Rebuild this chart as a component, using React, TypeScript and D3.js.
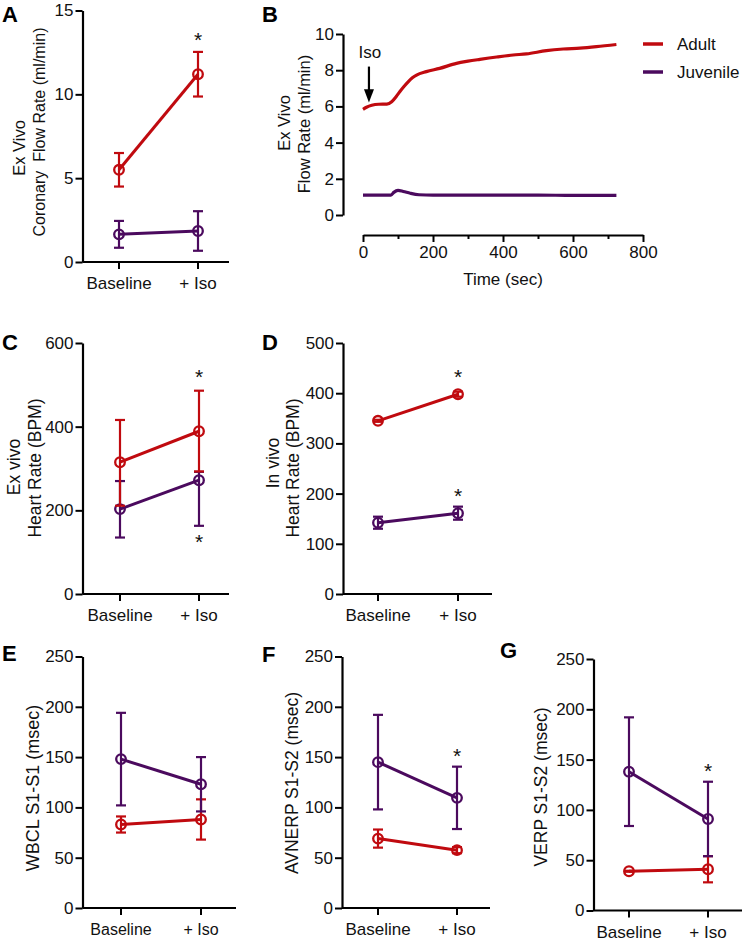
import React, { useRef, useEffect } from "react";
import * as d3 from "d3";

const RED = "#c00a0f";
const PURPLE = "#4b0a5e";
const FONT = "'Liberation Sans', Arial, Helvetica, sans-serif";

const categories = ["Baseline", "+ Iso"];

// A - coronary flow (ml/min), errors as [down, up]
const flowAdult = [5.5, 11.2];
const flowAdultErr = [[1.0, 1.0], [1.33, 1.33]];
const flowJuv = [1.65, 1.85];
const flowJuvErr = [[0.8, 0.8], [1.18, 1.18]];
const flowStars = [{ cat: "+ Iso", value: 13.5 }];

// B - flow over time
const adultTime = [0, 10, 25, 45, 68, 82, 95, 105, 117, 129, 141, 153, 181, 219, 267, 300, 334, 382, 429, 467, 524, 572, 620, 667, 724];
const adultFlow = [5.84, 5.95, 6.06, 6.12, 6.13, 6.26, 6.55, 6.81, 7.1, 7.36, 7.58, 7.73, 7.92, 8.1, 8.38, 8.5, 8.6, 8.73, 8.84, 8.9, 9.08, 9.17, 9.22, 9.3, 9.42];
const juvTime = [0, 40, 80, 88, 100, 115, 135, 160, 200, 300, 400, 500, 600, 700, 724];
const juvFlow = [1.1, 1.1, 1.1, 1.25, 1.36, 1.3, 1.2, 1.12, 1.1, 1.1, 1.1, 1.1, 1.08, 1.08, 1.08];
const isoTime = 17;

// C - ex vivo heart rate
const hrExAdult = [315, 389];
const hrExAdultErr = [[104, 101], [96, 97]];
const hrExJuv = [203, 272];
const hrExJuvErr = [[68, 67], [109, 20]];
const hrExStars = [{ cat: "+ Iso", value: 528 }, { cat: "+ Iso", value: 134 }];

// D - in vivo heart rate
const hrInAdult = [345, 398];
const hrInAdultErr = [[2, 2], [5, 5]];
const hrInJuv = [142, 161];
const hrInJuvErr = [[12, 12], [13, 13]];
const hrInStars = [{ cat: "+ Iso", value: 440 }, { cat: "+ Iso", value: 204 }];

// E - WBCL
const wbclAdult = [83, 88];
const wbclAdultErr = [[8, 8], [20, 20]];
const wbclJuv = [148, 123];
const wbclJuvErr = [[46, 46], [27, 27]];

// F - AVNERP
const avnerpAdult = [69, 57.5];
const avnerpAdultErr = [[9, 9], [3, 3]];
const avnerpJuv = [145, 109.5];
const avnerpJuvErr = [[47, 47], [31, 31]];
const avnerpStars = [{ cat: "+ Iso", value: 155 }];

// G - VERP
const verpAdult = [39, 41];
const verpAdultErr = [[0.5, 0.5], [13, 13]];
const verpJuv = [138, 91];
const verpJuvErr = [[54, 54], [37, 37]];
const verpStars = [{ cat: "+ Iso", value: 143 }];

function YAxis({ scale, x, ticks, fontSize }) {
  const ref = useRef(null);
  useEffect(() => {
    const g = d3.select(ref.current);
    g.call(d3.axisLeft(scale).tickValues(ticks).tickSize(7).tickPadding(2).tickSizeOuter(0));
    g.attr("font-family", FONT).attr("font-size", fontSize);
    g.select(".domain").attr("stroke-width", 2.2);
    g.selectAll(".tick line").attr("stroke-width", 2);
    g.selectAll(".tick text").attr("fill", "#111");
  });
  return <g ref={ref} transform={`translate(${x},0)`} />;
}

function Title({ lines }) {
  return (
    <g>
      {lines.map((l, i) => (
        <text
          key={i}
          transform={`translate(${l.x},${l.y}) rotate(-90)`}
          textAnchor="middle"
          fontSize={l.size}
          fontFamily={FONT}
          fill="#111"
          style={{ whiteSpace: "pre" }}
        >
          {l.text}
        </text>
      ))}
    </g>
  );
}

function Letter({ text, x, y }) {
  return (
    <text x={x} y={y} fontSize={22} fontWeight="bold" fontFamily={FONT} fill="#000">
      {text}
    </text>
  );
}

function Series({ xs, y, values, err, color }) {
  const pts = values.map((v, i) => [xs(categories[i]), y(v)]);
  return (
    <g>
      {values.map((v, i) => {
        const cx = xs(categories[i]);
        const lo = y(v - err[i][0]);
        const hi = y(v + err[i][1]);
        return (
          <g key={i} stroke={color} strokeWidth={2.2}>
            <line x1={cx} x2={cx} y1={lo} y2={hi} />
            <line x1={cx - 5} x2={cx + 5} y1={lo} y2={lo} />
            <line x1={cx - 5} x2={cx + 5} y1={hi} y2={hi} />
          </g>
        );
      })}
      <path d={d3.line()(pts)} stroke={color} strokeWidth={3} fill="none" />
      {pts.map((p, i) => (
        <circle key={i} cx={p[0]} cy={p[1]} r={4.8} fill="none" stroke={color} strokeWidth={2.3} />
      ))}
    </g>
  );
}

function CatPanel({ x0, yTop, yBottom, xEnd, catX, max, ticks, tickFont, catFont, series, stars = [], titles, letter }) {
  const y = d3.scaleLinear().domain([0, max]).range([yBottom, yTop]);
  const xs = d3.scalePoint().domain(categories).range(catX);
  return (
    <g>
      <Letter {...letter} />
      <Title lines={titles} />
      <YAxis scale={y} x={x0} ticks={ticks} fontSize={tickFont} />
      <line x1={x0} x2={xEnd} y1={yBottom} y2={yBottom} stroke="#000" strokeWidth={2.2} />
      {categories.map((c) => (
        <g key={c}>
          <line x1={xs(c)} x2={xs(c)} y1={yBottom} y2={yBottom + 7} stroke="#000" strokeWidth={2} />
          <text x={xs(c)} y={yBottom + 27} textAnchor="middle" fontSize={catFont} fontFamily={FONT} fill="#111" style={{ whiteSpace: "pre" }}>
            {c}
          </text>
        </g>
      ))}
      {series.map((s, i) => (
        <Series key={i} xs={xs} y={y} {...s} />
      ))}
      {stars.map((s, i) => (
        <text key={i} x={xs(s.cat)} y={y(s.value) + 11} textAnchor="middle" fontSize={21} fontFamily={FONT} fill="#111">
          *
        </text>
      ))}
    </g>
  );
}

function TimePanel() {
  const x = d3.scaleLinear().domain([0, 800]).range([363, 643]);
  const y = d3.scaleLinear().domain([0, 10]).range([215, 34]);
  const xRef = useRef(null);
  useEffect(() => {
    const g = d3.select(xRef.current);
    g.call(
      d3.axisBottom(x)
        .tickValues(d3.range(0, 801, 100))
        .tickSize(7)
        .tickPadding(4)
        .tickSizeOuter(0)
        .tickFormat((d) => (d % 200 === 0 ? String(d) : ""))
    );
    g.attr("font-family", FONT).attr("font-size", 17);
    g.select(".domain").attr("stroke-width", 2.2);
    g.selectAll(".tick line").attr("stroke-width", 2).attr("y2", (d) => (d % 200 === 0 ? 7 : 4));
    g.selectAll(".tick text").attr("fill", "#111");
  });
  const line = d3.line().x((d) => x(d[0])).y((d) => y(d[1])).curve(d3.curveMonotoneX);
  const adultPts = adultTime.map((t, i) => [t, adultFlow[i]]);
  const juvPts = juvTime.map((t, i) => [t, juvFlow[i]]);
  const ax = x(isoTime);
  return (
    <g>
      <Letter text="B" x={262} y={22} />
      <Title
        lines={[
          { text: "Ex Vivo", x: 290, y: 123, size: 16.5 },
          { text: "Flow Rate (ml/min)", x: 310, y: 124, size: 16.5 },
        ]}
      />
      <YAxis scale={y} x={343} ticks={[0, 2, 4, 6, 8, 10]} fontSize={17} />
      <g ref={xRef} transform="translate(0,235)" />
      <text x={(363 + 643) / 2} y={285} textAnchor="middle" fontSize={17} fontFamily={FONT} fill="#111">
        Time (sec)
      </text>
      <path d={line(juvPts)} stroke={PURPLE} strokeWidth={3.2} fill="none" />
      <path d={line(adultPts)} stroke={RED} strokeWidth={3.2} fill="none" />
      <text x={ax + 1} y={58} textAnchor="middle" fontSize={17} fontFamily={FONT} fill="#111">
        Iso
      </text>
      <line x1={ax} x2={ax} y1={y(8.2)} y2={y(6.9)} stroke="#000" strokeWidth={2.2} />
      <path d={`M${ax - 5},${y(6.95)} L${ax + 5},${y(6.95)} L${ax},${y(6.22)} Z`} fill="#000" />
      <line x1={643} x2={663} y1={44} y2={44} stroke={RED} strokeWidth={3.5} />
      <text x={677} y={50} fontSize={17} fontFamily={FONT} fill="#111">Adult</text>
      <line x1={643} x2={663} y1={72} y2={72} stroke={PURPLE} strokeWidth={3.5} />
      <text x={677} y={78} fontSize={17} fontFamily={FONT} fill="#111">Juvenile</text>
    </g>
  );
}

export default function App() {
  return (
    <svg width={745} height={942} style={{ position: "absolute", left: 0, top: 0, background: "#fff" }}>
      <rect width={745} height={942} fill="#fff" />
      <CatPanel
        x0={82.5} yTop={10.5} yBottom={262} xEnd={229} catX={[119, 198]} max={15} ticks={[0, 5, 10, 15]}
        tickFont={17} catFont={17}
        letter={{ text: "A", x: 2, y: 22 }}
        titles={[
          { text: "Ex Vivo", x: 25, y: 148, size: 16.5 },
          { text: "Coronary  Flow Rate (ml/min)", x: 45, y: 132, size: 16 },
        ]}
        series={[
          { values: flowJuv, err: flowJuvErr, color: PURPLE },
          { values: flowAdult, err: flowAdultErr, color: RED },
        ]}
        stars={flowStars}
      />
      <TimePanel />
      <CatPanel
        x0={82.5} yTop={343} yBottom={594} xEnd={229} catX={[120, 199]} max={600} ticks={[0, 200, 400, 600]}
        tickFont={17} catFont={17}
        letter={{ text: "C", x: 2, y: 350 }}
        titles={[
          { text: "Ex vivo", x: 20, y: 467, size: 17.5 },
          { text: "Heart Rate (BPM)", x: 41, y: 468, size: 17.5 },
        ]}
        series={[
          { values: hrExJuv, err: hrExJuvErr, color: PURPLE },
          { values: hrExAdult, err: hrExAdultErr, color: RED },
        ]}
        stars={hrExStars}
      />
      <CatPanel
        x0={343} yTop={343} yBottom={594} xEnd={492} catX={[378, 458]} max={500} ticks={[0, 100, 200, 300, 400, 500]}
        tickFont={17} catFont={17}
        letter={{ text: "D", x: 262, y: 350 }}
        titles={[
          { text: "In vivo", x: 279, y: 463, size: 17.5 },
          { text: "Heart Rate (BPM)", x: 299, y: 468, size: 17.5 },
        ]}
        series={[
          { values: hrInJuv, err: hrInJuvErr, color: PURPLE },
          { values: hrInAdult, err: hrInAdultErr, color: RED },
        ]}
        stars={hrInStars}
      />
      <CatPanel
        x0={82.5} yTop={656.5} yBottom={908} xEnd={236} catX={[121, 201]} max={250} ticks={[0, 50, 100, 150, 200, 250]}
        tickFont={17} catFont={16}
        letter={{ text: "E", x: 2, y: 661 }}
        titles={[{ text: "WBCL S1-S1 (msec)", x: 39, y: 788, size: 18 }]}
        series={[
          { values: wbclAdult, err: wbclAdultErr, color: RED },
          { values: wbclJuv, err: wbclJuvErr, color: PURPLE },
        ]}
      />
      <CatPanel
        x0={342} yTop={656.5} yBottom={908} xEnd={490} catX={[378, 457]} max={250} ticks={[0, 50, 100, 150, 200, 250]}
        tickFont={17} catFont={17}
        letter={{ text: "F", x: 262, y: 662 }}
        titles={[{ text: "AVNERP S1-S2 (msec)", x: 298, y: 783, size: 17.5 }]}
        series={[
          { values: avnerpAdult, err: avnerpAdultErr, color: RED },
          { values: avnerpJuv, err: avnerpJuvErr, color: PURPLE },
        ]}
        stars={avnerpStars}
      />
      <CatPanel
        x0={593.5} yTop={659} yBottom={910.5} xEnd={742} catX={[629, 708]} max={250} ticks={[0, 50, 100, 150, 200, 250]}
        tickFont={17} catFont={17}
        letter={{ text: "G", x: 500, y: 658 }}
        titles={[{ text: "VERP S1-S2 (msec)", x: 547, y: 787, size: 17.5 }]}
        series={[
          { values: verpAdult, err: verpAdultErr, color: RED },
          { values: verpJuv, err: verpJuvErr, color: PURPLE },
        ]}
        stars={verpStars}
      />
    </svg>
  );
}
